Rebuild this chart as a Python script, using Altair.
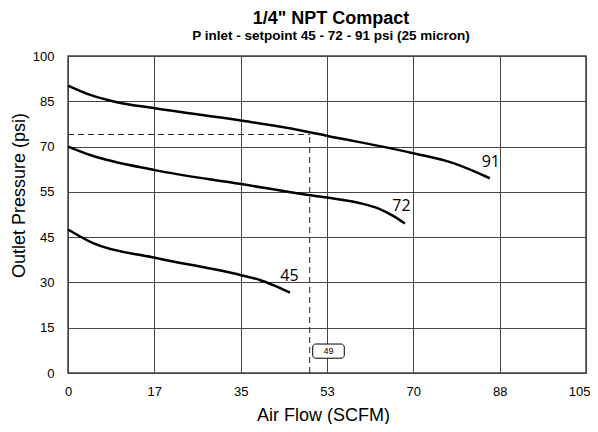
import altair as alt
import pandas as pd

# ---- data ----
flow_91 = [0, 4.5, 9.9, 17.6, 35.1, 47.0, 52.4, 70.0, 78.1, 85.5]
pres_91 = [90.2, 87.1, 84.7, 82.7, 78.6, 75.4, 73.6, 67.8, 64.5, 59.5]

flow_72 = [0, 4.5, 17.6, 35.1, 48.7, 55.1, 59.2, 63.2, 65.9, 68.3]
pres_72 = [70.0, 67.2, 62.2, 57.6, 54.3, 53.3, 52.5, 51.2, 49.7, 48.0]

flow_45 = [0, 5.1, 17.6, 35.1, 38.9, 41.6, 45.0]
pres_45 = [46.7, 43.0, 38.2, 32.4, 30.8, 29.1, 26.6]

setpoints = ["91", "72", "45"]
label_flow = [85.7, 67.6, 44.9]
label_pres = [64.8, 51.9, 32.2]

op_flow = 49
op_pres = 74
op_text = "49"
op_box_flow = [49.6, 56.0]
op_box_pres = [4.9, 9.6]

x_tick_values = [0, 17.5, 35, 52.5, 70, 87.5, 105]
x_tick_labels = ["0", "17", "35", "53", "70", "88", "105"]
y_tick_values = [0, 15, 30, 45, 55, 70, 85, 100]
y_tick_labels = ["0", "15", "30", "45", "55", "70", "85", "100"]

title_text = '1/4" NPT Compact'
subtitle_text = "P inlet  - setpoint 45 - 72 - 91 psi (25 micron)"
x_title = "Air Flow (SCFM)"
y_title = "Outlet Pressure (psi)"

# ---- build tables ----
rows = []
for sp, fl, pr in [("91", flow_91, pres_91), ("72", flow_72, pres_72), ("45", flow_45, pres_45)]:
    for f, p in zip(fl, pr):
        rows.append({"flow": f, "pressure": p, "setpoint": sp})
curves = pd.DataFrame(rows)
labels = pd.DataFrame({"flow": label_flow, "pressure": label_pres, "text": setpoints})
op = pd.DataFrame({"flow": [op_flow], "pressure": [op_pres], "zero_f": [0], "zero_p": [0]})
box = pd.DataFrame({"f1": [op_box_flow[0]], "f2": [op_box_flow[1]],
                    "p1": [op_box_pres[0]], "p2": [op_box_pres[1]],
                    "fc": [sum(op_box_flow) / 2], "pc": [sum(op_box_pres) / 2],
                    "text": [op_text]})

W, H = 518, 317
n = len(y_tick_values) - 1
y_range = [H - H * i / n for i in range(n + 1)]

def label_expr(vals, labs):
    expr = "''"
    for v, l in zip(reversed(vals), reversed(labs)):
        expr = f"datum.value == {v} ? '{l}' : ({expr})"
    return expr

xmax = x_tick_values[-1]
xscale = alt.Scale(domain=[0, xmax], nice=False, zero=False)
yscale = alt.Scale(domain=y_tick_values, range=y_range, nice=False, zero=False)

xaxis = alt.Axis(values=x_tick_values, labelExpr=label_expr(x_tick_values, x_tick_labels),
                 title=x_title, grid=True, ticks=False, domain=False, labelFlush=False,
                 labelBound=False,
                 labelAlign=alt.ExprRef(f"datum.value == {xmax} ? 'right' : 'center'"),
                 labelOffset=alt.ExprRef(f"datum.value == {xmax} ? 4 : 0"),
                 labelPadding=12, labelFontSize=13, titleFontSize=18,
                 titleFontWeight="normal", titleBaseline="alphabetic", titleY=47, titleX=W / 2 - 4)
yaxis = alt.Axis(values=y_tick_values, labelExpr=label_expr(y_tick_values, y_tick_labels),
                 title=y_title, grid=True, ticks=False, domain=False, labelFlush=False,
                 labelPadding=14, labelFontSize=13, titleFontSize=18,
                 titleFontWeight="normal", titleX=-49, titleY=139, titleBaseline="middle")

X = alt.X("flow:Q", scale=xscale, axis=xaxis)
Y = alt.Y("pressure:Q", scale=yscale, axis=yaxis)

lines = alt.Chart(curves).mark_line(color="black", strokeWidth=2.5, interpolate="monotone").encode(
    x=X, y=Y, detail="setpoint:N")

hrule = alt.Chart(op).mark_rule(color="#222", strokeWidth=1, strokeDash=[6, 4]).encode(
    x=alt.X("zero_f:Q", scale=xscale), x2="flow:Q", y=alt.Y("pressure:Q", scale=yscale))
vrule = alt.Chart(op).mark_rule(color="#222", strokeWidth=1, strokeDash=[6, 4]).encode(
    x=alt.X("flow:Q", scale=xscale), y=alt.Y("zero_p:Q", scale=yscale), y2="pressure:Q")

txt = alt.Chart(labels).mark_text(font="Open Sans", fontSize=16, color="black").encode(
    x=alt.X("flow:Q", scale=xscale), y=alt.Y("pressure:Q", scale=yscale), text="text:N")

rect = alt.Chart(box).mark_rect(fill="white", stroke="black", strokeWidth=1, cornerRadius=3).encode(
    x=alt.X("f1:Q", scale=xscale), x2="f2:Q", y=alt.Y("p1:Q", scale=yscale), y2="p2:Q")
rect_txt = alt.Chart(box).mark_text(font="Liberation Sans", fontSize=9, color="black").encode(
    x=alt.X("fc:Q", scale=xscale), y=alt.Y("pc:Q", scale=yscale), text="text:N")

chart = alt.layer(lines, hrule, vrule, txt, rect, rect_txt).properties(
    width=W, height=H,
    autosize=alt.AutoSizeParams(type="none"),
    padding={"left": 60, "top": 48, "right": 4, "bottom": 51},
    title=alt.TitleParams(text=title_text, subtitle=subtitle_text, anchor="middle",
                          fontSize=18, subtitleFontSize=13.5, fontWeight="bold",
                          subtitleFontWeight="bold", color="black", subtitleColor="black",
                          font="Liberation Sans", subtitleFont="Liberation Sans",
                          subtitlePadding=1, offset=8, dx=4),
).configure_view(stroke="#444", strokeWidth=1.5).configure_axis(
    gridColor="#444", gridOpacity=1, gridWidth=1,
    labelFont="Liberation Sans", titleFont="Liberation Sans",
    labelColor="black", titleColor="black",
)

chart.save("out.html", embed_options={"renderer": "svg", "actions": False})
